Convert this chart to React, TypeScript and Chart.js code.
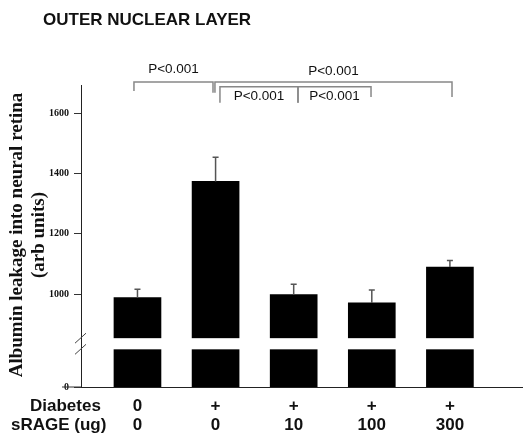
import React, { useEffect, useRef } from 'react';
import { Chart, registerables } from 'chart.js';

Chart.register(...registerables);

const groups = [1, 2, 3, 4, 5];
const diabetes = ['0', '+', '+', '+', '+'];
const srage = ['0', '0', '10', '100', '300'];
const means = [989, 1374, 999, 971, 1090];
const sem = [27, 80, 34, 43, 22];
const yTicks = [1000, 1200, 1400, 1600];
const yBaseLabel = '0';
const yMin = 692;
const yMax = 1694;
const breakLow = 817;
const breakHigh = 854;
const xMin = 0.277;
const xMax = 5.923;
const title = 'OUTER NUCLEAR LAYER';
const yTitle = ['Albumin leakage into neural retina', '(arb units)'];
const rowLabels = ['Diabetes', 'sRAGE (ug)'];
const pText = 'P<0.001';
const brackets = [
  { x1: 0.955, x2: 1.967, top: 1704, drop1: 1674, drop2: 1668, labelY: 1747 },
  { x1: 1.992, x2: 5.027, top: 1704, drop1: 1668, drop2: 1654, labelY: 1740 },
  { x1: 2.056, x2: 3.055, top: 1688, drop1: 1635, drop2: 1635, labelY: 1658 },
  { x1: 3.055, x2: 3.99, top: 1688, drop1: 1635, drop2: 1654, labelY: 1658 },
];

const SANS = "'Liberation Sans', Arial, sans-serif";
const SERIF = "'Liberation Serif', 'Times New Roman', serif";

const overlay = {
  id: 'overlay',
  afterDatasetsDraw(chart: any) {
    const { ctx, chartArea, scales } = chart;
    const xs = scales.x;
    const ys = scales.y;
    ctx.save();
    const gTop = ys.getPixelForValue(breakHigh);
    const gBot = ys.getPixelForValue(breakLow);
    ctx.fillStyle = '#ffffff';
    ctx.fillRect(chartArea.left + 1, gTop, chartArea.right - chartArea.left - 1, gBot - gTop);
    ctx.strokeStyle = '#555';
    ctx.lineWidth = 1.5;
    groups.forEach((g, i) => {
      const cx = xs.getPixelForValue(g);
      const y0 = ys.getPixelForValue(means[i]);
      const y1 = ys.getPixelForValue(means[i] + sem[i]);
      ctx.beginPath();
      ctx.moveTo(cx, y0);
      ctx.lineTo(cx, y1);
      ctx.moveTo(cx - 3, y1);
      ctx.lineTo(cx + 3, y1);
      ctx.stroke();
    });
    ctx.restore();
  },
  afterDraw(chart: any) {
    const { ctx, chartArea, scales } = chart;
    const xs = scales.x;
    const ys = scales.y;
    ctx.save();
    ctx.strokeStyle = '#444';
    ctx.lineWidth = 1;
    [breakHigh, breakLow].forEach((v) => {
      const y = ys.getPixelForValue(v);
      ctx.beginPath();
      ctx.moveTo(chartArea.left - 6, y + 5);
      ctx.lineTo(chartArea.left + 5, y - 5);
      ctx.stroke();
    });
    const yb = ys.getPixelForValue(yMin);
    ctx.strokeStyle = '#333';
    ctx.beginPath();
    ctx.moveTo(chartArea.left - 19, yb);
    ctx.lineTo(chartArea.left, yb);
    ctx.stroke();

    ctx.fillStyle = '#111';
    ctx.font = `bold 17px ${SANS}`;
    ctx.textAlign = 'left';
    ctx.textBaseline = 'middle';
    ctx.fillText(title, 43, 20);

    ctx.font = `bold 19px ${SERIF}`;
    ctx.textAlign = 'center';
    const cy = (chartArea.top + chartArea.bottom) / 2 - 1;
    [17, 39].forEach((x, i) => {
      ctx.save();
      ctx.translate(x, cy);
      ctx.rotate(-Math.PI / 2);
      ctx.fillText(yTitle[i], 0, 0);
      ctx.restore();
    });

    ctx.font = `bold 17px ${SANS}`;
    ctx.textAlign = 'left';
    ctx.fillText(rowLabels[0], 30, 406);
    ctx.fillText(rowLabels[1], 11, 425);
    ctx.textAlign = 'center';
    groups.forEach((g, i) => {
      const cx = xs.getPixelForValue(g);
      ctx.fillText(diabetes[i], cx, 406);
      ctx.fillText(srage[i], cx, 425);
    });

    ctx.strokeStyle = '#888';
    ctx.lineWidth = 1.5;
    ctx.font = `13.5px ${SANS}`;
    ctx.fillStyle = '#111';
    brackets.forEach((b) => {
      const x1 = xs.getPixelForValue(b.x1);
      const x2 = xs.getPixelForValue(b.x2);
      const yt = ys.getPixelForValue(b.top);
      ctx.beginPath();
      ctx.moveTo(x1, ys.getPixelForValue(b.drop1));
      ctx.lineTo(x1, yt);
      ctx.lineTo(x2, yt);
      ctx.lineTo(x2, ys.getPixelForValue(b.drop2));
      ctx.stroke();
      ctx.fillText(pText, (x1 + x2) / 2, ys.getPixelForValue(b.labelY));
    });
    ctx.restore();
  },
};

export default function App() {
  const ref = useRef<HTMLCanvasElement>(null);
  useEffect(() => {
    if (!ref.current) return;
    const chart = new Chart(ref.current, {
      type: 'bar',
      data: {
        datasets: [
          {
            data: groups.map((g, i) => ({ x: g, y: means[i] })),
            backgroundColor: '#000',
            borderWidth: 0,
            barThickness: 47,
          } as any,
        ],
      },
      options: {
        animation: false,
        responsive: false,
        devicePixelRatio: 1,
        layout: { padding: { top: 85, right: 6, left: 0, bottom: 0 } },
        plugins: { legend: { display: false }, tooltip: { enabled: false }, title: { display: false } },
        scales: {
          x: {
            type: 'linear',
            min: xMin,
            max: xMax,
            offset: false,
            grid: { display: false },
            border: { display: true, color: '#222', width: 1 },
            ticks: { display: false },
            afterFit: (s: any) => {
              s.height = 46;
            },
          },
          y: {
            type: 'linear',
            min: yMin,
            max: yMax,
            grid: { display: true, drawOnChartArea: false, drawTicks: true, tickLength: 7, color: '#333' },
            border: { display: true, color: '#222', width: 1 },
            afterBuildTicks: (s: any) => {
              s.ticks = [yMin, ...yTicks].map((v) => ({ value: v }));
            },
            ticks: {
              padding: 5,
              color: '#111',
              font: { family: SERIF, size: 10, weight: 'bold' },
              callback: (v: any) => (v === yMin ? yBaseLabel : String(v)),
            },
            afterFit: (s: any) => {
              s.width = 81;
            },
          },
        },
      } as any,
      plugins: [overlay],
    });
    return () => chart.destroy();
  }, []);
  return (
    <div style={{ position: 'absolute', left: 0, top: 0, width: 528, height: 433, background: '#fff' }}>
      <canvas ref={ref} width={528} height={433} style={{ display: 'block' }} />
    </div>
  );
}
